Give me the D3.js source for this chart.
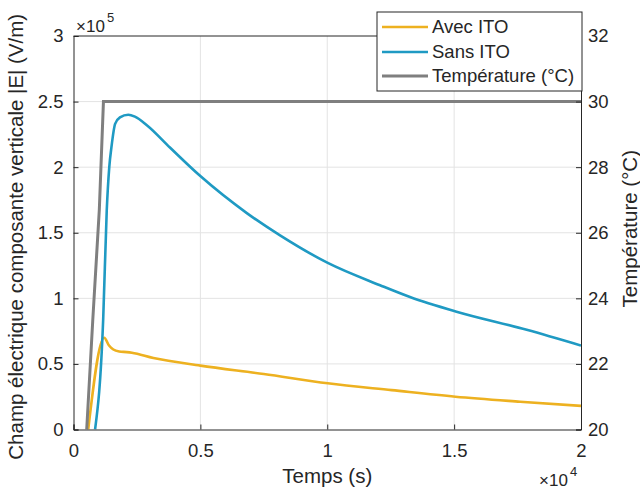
<!DOCTYPE html>
<html><head><meta charset="utf-8">
<script src="https://cdn.jsdelivr.net/npm/d3@7"></script>
<style>
body{margin:0;background:#fff;}
text{font-family:"Liberation Sans",Arial,sans-serif;fill:#262626;}
</style></head>
<body><svg id="c" width="640" height="491"></svg>
<script>
// ---- data (time in s, field in V/m, temperature in °C) ----
const avecT = [580,1210,1400,1570,1800,2100,2300,3150,5000,7500,10020,12540,15050,17600,20000];
const avecE = [0,0.70e5,0.64e5,0.61e5,0.595e5,0.59e5,0.585e5,0.545e5,0.487e5,0.423e5,0.352e5,0.30e5,0.25e5,0.212e5,0.18e5];
const sansT = [850,1170,1310,1410,1500,1640,1830,2160,2420,2890,3800,5010,6830,8140,10020,12080,13260,15060,17860,20000];
const sansE = [0,0.84e5,1.67e5,2.0e5,2.16e5,2.33e5,2.38e5,2.40e5,2.385e5,2.32e5,2.15e5,1.93e5,1.65e5,1.48e5,1.27e5,1.10e5,1.01e5,0.90e5,0.76e5,0.64e5];
const tempT = [520,757,1017,1180,20000];
const tempC = [20,23.3,26.7,30,30];
const xTicks = [0,5000,10000,15000,20000];
const xTickLabels = ["0","0.5","1","1.5","2"];
const yLTicks = [0,0.5e5,1e5,1.5e5,2e5,2.5e5,3e5];
const yLTickLabels = ["0","0.5","1","1.5","2","2.5","3"];
const yRTicks = [20,22,24,26,28,30,32];
const seriesNames = ["Avec ITO","Sans ITO","Température (°C)"];
const colors = ["#EDB120","#1f9ac3","#7f7f7f"];

const svg = d3.select("#c");
const L=73.5,R=581,T=36,B=429.5;
const x = d3.scaleLinear().domain([0,20000]).range([L,R]);
const yL = d3.scaleLinear().domain([0,3e5]).range([B,T]);
const yR = d3.scaleLinear().domain([20,32]).range([B,T]);

// grid
const g = svg.append("g");
g.selectAll(".gx").data(xTicks.slice(1,-1)).enter().append("line")
 .attr("x1",d=>x(d)).attr("x2",d=>x(d)).attr("y1",T).attr("y2",B)
 .attr("stroke","#e3e3e3").attr("stroke-width",1);
g.selectAll(".gy").data(yLTicks.slice(1,-1)).enter().append("line")
 .attr("x1",L).attr("x2",R).attr("y1",d=>yL(d)).attr("y2",d=>yL(d))
 .attr("stroke","#e3e3e3").attr("stroke-width",1);

// clip
svg.append("clipPath").attr("id","clip").append("rect")
 .attr("x",L).attr("y",T).attr("width",R-L).attr("height",B-T);
const plot = svg.append("g").attr("clip-path","url(#clip)");
const lineL = d3.line().x(d=>x(d[0])).y(d=>yL(d[1])).curve(d3.curveMonotoneX);
const lineR = d3.line().x(d=>x(d[0])).y(d=>yR(d[1]));
plot.append("path").datum(avecT.map((t,i)=>[t,avecE[i]])).attr("d",lineL)
 .attr("fill","none").attr("stroke",colors[0]).attr("stroke-width",2.6);
plot.append("path").datum(sansT.map((t,i)=>[t,sansE[i]])).attr("d",lineL)
 .attr("fill","none").attr("stroke",colors[1]).attr("stroke-width",2.6);
plot.append("path").datum(tempT.map((t,i)=>[t,tempC[i]])).attr("d",lineR)
 .attr("fill","none").attr("stroke",colors[2]).attr("stroke-width",3);

// axes
const axB = d3.axisBottom(x).tickValues(xTicks).tickFormat((d,i)=>xTickLabels[i]).tickSize(-5).tickPadding(14.5);
const axL = d3.axisLeft(yL).tickValues(yLTicks).tickFormat((d,i)=>yLTickLabels[i]).tickSize(-5).tickPadding(10);
const axR = d3.axisRight(yR).tickValues(yRTicks).tickFormat(d=>String(d)).tickSize(-5).tickPadding(7);
function style(sel){
  sel.attr("font-size",null).attr("font-family",null);
  sel.selectAll("path.domain").attr("stroke","#262626");
  sel.selectAll(".tick line").attr("stroke","#262626");
  sel.selectAll("text").style("font-size","18.5px").attr("fill","#262626");
}
svg.append("g").attr("transform",`translate(0,${B})`).call(axB).call(style);
svg.append("g").attr("transform",`translate(${L},0)`).call(axL).call(style);
svg.append("g").attr("transform",`translate(${R},0)`).call(axR).call(style);
svg.append("line").attr("x1",L).attr("x2",R).attr("y1",T).attr("y2",T).attr("stroke","#262626");

// exponent labels
function expo(xp,yp,base,ex){
  svg.append("text").attr("x",xp).attr("y",yp).style("font-size","17px").text(base);
  svg.append("text").attr("x",xp+31).attr("y",yp-10).style("font-size","13px").text(ex);
}
expo(76,32,"×10","5");
expo(539,486,"×10","4");

// axis labels
svg.append("text").attr("x",(L+R)/2).attr("y",483).attr("text-anchor","middle")
 .style("font-size","20.5px").text("Temps (s)");
svg.append("text").attr("transform",`translate(23,${(T+B)/2+4}) rotate(-90)`).attr("text-anchor","middle")
 .style("font-size","20.5px").text("Champ électrique composante verticale |E| (V/m)");
svg.append("text").attr("transform",`translate(637,${(T+B)/2-4}) rotate(-90)`).attr("text-anchor","middle")
 .style("font-size","20.5px").text("Température (°C)");

// legend
const lg = svg.append("g");
lg.append("rect").attr("x",377).attr("y",12).attr("width",205).attr("height",79)
 .attr("fill","#fff").attr("stroke","#262626").attr("stroke-width",1);
const rows=[27,52,76];
seriesNames.forEach((n,i)=>{
  lg.append("line").attr("x1",382).attr("x2",428).attr("y1",rows[i]).attr("y2",rows[i])
    .attr("stroke",colors[i]).attr("stroke-width",i==2?3:2.6);
  lg.append("text").attr("x",432).attr("y",rows[i]).attr("dy","0.35em").style("font-size","18.5px").text(n);
});
</script></body></html>
